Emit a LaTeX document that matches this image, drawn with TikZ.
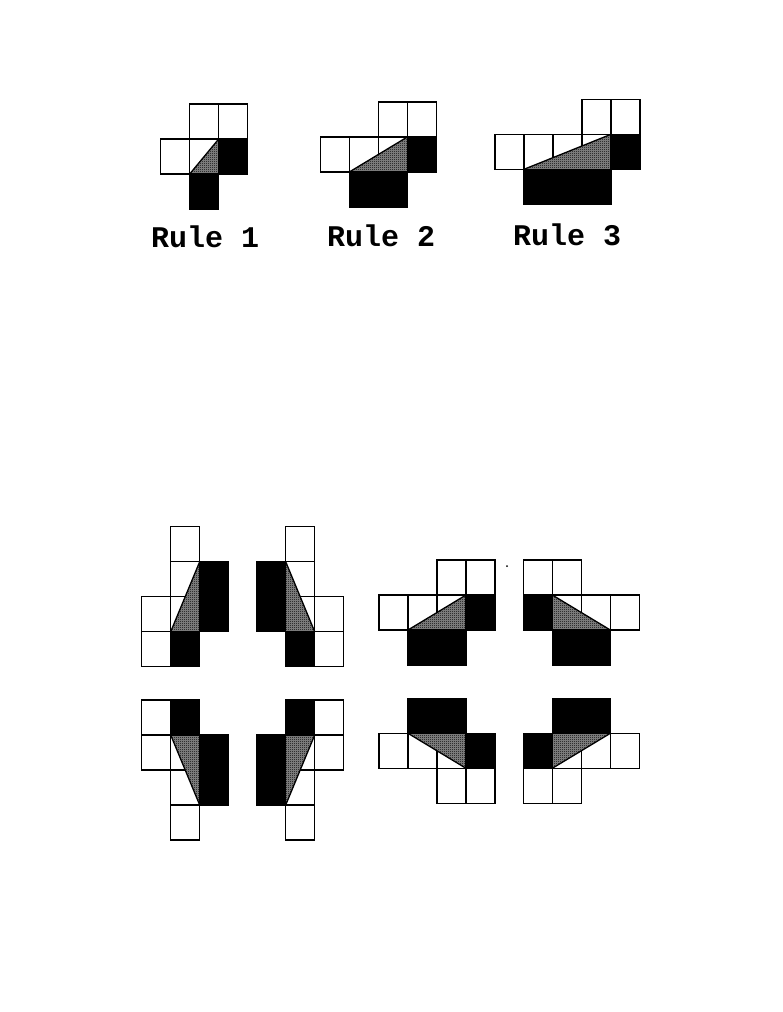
\documentclass[tikz,border=0pt]{standalone}
\usepackage{fontspec}
\newfontfamily\rulefont{Liberation Mono}
\usetikzlibrary{patterns}
\pgfdeclarepatternformonly{stipple}{\pgfpointorigin}{\pgfpoint{2pt}{2pt}}{\pgfpoint{2pt}{2pt}}{%
  \pgfpathrectangle{\pgfpointorigin}{\pgfpoint{1pt}{1pt}}%
  \pgfpathrectangle{\pgfpoint{1pt}{1pt}}{\pgfpoint{1pt}{1pt}}%
  \pgfusepath{fill}}
\tikzset{
  wcell/.style={draw=black, fill=white, line width=1.3pt},
  bcell/.style={draw=black, fill=black, line width=1.3pt},
  base/.style={fill=black!45},
  shade/.style={pattern=stipple, pattern color=black},
  hyp/.style={line width=1.3pt, line join=round, line cap=round},
  lab/.style={font=\rulefont\bfseries\fontsize{30}{30}\selectfont, inner sep=0pt, anchor=base west},
  fig/.style={x=29pt, y=-35pt}
}
\begin{document}
\begin{tikzpicture}[x=1pt,y=-1pt]
\fill[white] (0,0) rectangle (782,1012);
\useasboundingbox (0,0) rectangle (782,1012);

% Rule 1
\begin{scope}[shift={(160.7,104)}, fig]
  \foreach \c/\r in {1/0,2/0,0/1,1/1} \draw[wcell] (\c,\r) rectangle ++(1,1);
  \fill[base] (2,1) -- (1,2) -- (2,2) -- cycle;
  \fill[shade] (2,1) -- (1,2) -- (2,2) -- cycle;
  \foreach \c/\r in {2/1,1/2} \draw[bcell] (\c,\r) rectangle ++(1,1);
  \draw[hyp] (2,1) -- (1,2);
\end{scope}
% Rule 2
\begin{scope}[shift={(320.3,102)}, fig]
  \foreach \c/\r in {2/0,3/0,0/1,1/1,2/1} \draw[wcell] (\c,\r) rectangle ++(1,1);
  \fill[base] (3,1) -- (1,2) -- (3,2) -- cycle;
  \fill[shade] (3,1) -- (1,2) -- (3,2) -- cycle;
  \foreach \c/\r in {3/1,1/2,2/2} \draw[bcell] (\c,\r) rectangle ++(1,1);
  \draw[hyp] (3,1) -- (1,2);
\end{scope}
% Rule 3
\begin{scope}[shift={(495,99.3)}, fig]
  \foreach \c/\r in {3/0,4/0,0/1,1/1,2/1,3/1} \draw[wcell] (\c,\r) rectangle ++(1,1);
  \fill[base] (4,1) -- (1,2) -- (4,2) -- cycle;
  \fill[shade] (4,1) -- (1,2) -- (4,2) -- cycle;
  \foreach \c/\r in {4/1,1/2,2/2,3/2} \draw[bcell] (\c,\r) rectangle ++(1,1);
  \draw[hyp] (4,1) -- (1,2);
\end{scope}

\node[lab] (r1) at (151,247) {Rule 1};
\node[lab] (r2) at (327,246.5) {Rule 2};
\node[lab] (r3) at (513,245) {Rule 3};

% A
\begin{scope}[shift={(141.7,526.7)}, fig]
  \foreach \c/\r in {1/0,1/1,0/2,1/2,0/3} \draw[wcell] (\c,\r) rectangle ++(1,1);
  \fill[base] (2,1) -- (1,3) -- (2,3) -- cycle;
  \fill[shade] (2,1) -- (1,3) -- (2,3) -- cycle;
  \foreach \c/\r in {2/1,2/2,1/3} \draw[bcell] (\c,\r) rectangle ++(1,1);
  \draw[hyp] (2,1) -- (1,3);
\end{scope}
% B
\begin{scope}[shift={(256.7,526.7)}, fig]
  \foreach \c/\r in {1/0,1/1,1/2,2/2,2/3} \draw[wcell] (\c,\r) rectangle ++(1,1);
  \fill[base] (1,1) -- (2,3) -- (1,3) -- cycle;
  \fill[shade] (1,1) -- (2,3) -- (1,3) -- cycle;
  \foreach \c/\r in {0/1,0/2,1/3} \draw[bcell] (\c,\r) rectangle ++(1,1);
  \draw[hyp] (1,1) -- (2,3);
\end{scope}
% C
\begin{scope}[shift={(141.7,700)}, fig]
  \foreach \c/\r in {0/0,0/1,1/1,1/2,1/3} \draw[wcell] (\c,\r) rectangle ++(1,1);
  \fill[base] (1,1) -- (2,1) -- (2,3) -- cycle;
  \fill[shade] (1,1) -- (2,1) -- (2,3) -- cycle;
  \foreach \c/\r in {1/0,2/1,2/2} \draw[bcell] (\c,\r) rectangle ++(1,1);
  \draw[hyp] (1,1) -- (2,3);
\end{scope}
% D
\begin{scope}[shift={(256.7,700)}, fig]
  \foreach \c/\r in {2/0,1/1,2/1,1/2,1/3} \draw[wcell] (\c,\r) rectangle ++(1,1);
  \fill[base] (1,1) -- (2,1) -- (1,3) -- cycle;
  \fill[shade] (1,1) -- (2,1) -- (1,3) -- cycle;
  \foreach \c/\r in {1/0,0/1,0/2} \draw[bcell] (\c,\r) rectangle ++(1,1);
  \draw[hyp] (2,1) -- (1,3);
\end{scope}
% E
\begin{scope}[shift={(379,560)}, fig]
  \foreach \c/\r in {2/0,3/0,0/1,1/1,2/1} \draw[wcell] (\c,\r) rectangle ++(1,1);
  \fill[base] (3,1) -- (1,2) -- (3,2) -- cycle;
  \fill[shade] (3,1) -- (1,2) -- (3,2) -- cycle;
  \foreach \c/\r in {3/1,1/2,2/2} \draw[bcell] (\c,\r) rectangle ++(1,1);
  \draw[hyp] (3,1) -- (1,2);
\end{scope}
% F
\begin{scope}[shift={(523.3,560)}, fig]
  \foreach \c/\r in {0/0,1/0,1/1,2/1,3/1} \draw[wcell] (\c,\r) rectangle ++(1,1);
  \fill[base] (1,1) -- (3,2) -- (1,2) -- cycle;
  \fill[shade] (1,1) -- (3,2) -- (1,2) -- cycle;
  \foreach \c/\r in {0/1,1/2,2/2} \draw[bcell] (\c,\r) rectangle ++(1,1);
  \draw[hyp] (1,1) -- (3,2);
\end{scope}
% G
\begin{scope}[shift={(379,698.3)}, fig]
  \foreach \c/\r in {0/1,1/1,2/1,2/2,3/2} \draw[wcell] (\c,\r) rectangle ++(1,1);
  \fill[base] (1,1) -- (3,1) -- (3,2) -- cycle;
  \fill[shade] (1,1) -- (3,1) -- (3,2) -- cycle;
  \foreach \c/\r in {1/0,2/0,3/1} \draw[bcell] (\c,\r) rectangle ++(1,1);
  \draw[hyp] (1,1) -- (3,2);
\end{scope}
% H
\begin{scope}[shift={(523.3,698.3)}, fig]
  \foreach \c/\r in {1/1,2/1,3/1,0/2,1/2} \draw[wcell] (\c,\r) rectangle ++(1,1);
  \fill[base] (1,1) -- (3,1) -- (1,2) -- cycle;
  \fill[shade] (1,1) -- (3,1) -- (1,2) -- cycle;
  \foreach \c/\r in {1/0,2/0,0/1} \draw[bcell] (\c,\r) rectangle ++(1,1);
  \draw[hyp] (3,1) -- (1,2);
\end{scope}

\fill[black] (507,566) circle (1);
\end{tikzpicture}
\end{document}
